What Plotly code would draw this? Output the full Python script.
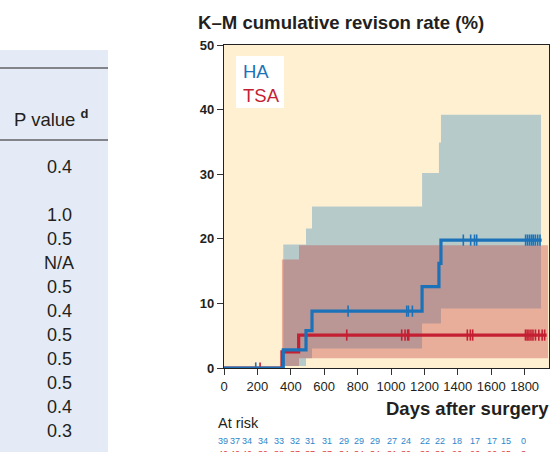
import numpy as np
import plotly.graph_objects as go

# ---------------- data ----------------
ha_days = [0, 355, 491, 527, 1186, 1287, 1299, 1902]
ha_rate = [0, 2.8, 5.8, 8.8, 12.6, 16.2, 19.8, 19.8]
tsa_days = [0, 347, 447, 1932]
tsa_rate = [0, 2.5, 5.1, 5.1]

ha_ci_days = [355, 491, 527, 1186, 1287, 1299, 1898]
ha_ci_upper = [19.1, 21.6, 25.0, 30.2, 34.9, 39.2, 39.2]
ha_ci_lower = [0.3, 1.5, 3.0, 6.9, 6.9, 9.2, 9.2]
tsa_ci_days = [347, 449, 1940]
tsa_ci_upper = [16.8, 19.0, 19.0]
tsa_ci_lower = [0.3, 1.5, 1.5]

ha_censor = [190, 743, 1094, 1104, 1128, 1433, 1477, 1500, 1513,
             1806, 1818, 1830, 1842, 1852, 1864, 1878, 1892]
tsa_censor = [216, 735, 1064, 1084, 1100, 1106, 1457, 1475, 1489,
              1805, 1815, 1826, 1838, 1850, 1865, 1885, 1905, 1920]

risk_days = [-8, 68, 136, 236, 331, 425, 515, 615, 721, 811,
             905, 1008, 1090, 1204, 1293, 1393, 1503, 1603, 1687, 1793]
ha_at_risk = [39, 37, 34, 34, 33, 32, 31, 31, 29, 29, 29, 27, 24, 22, 22, 18, 17, 17, 15, 0]
tsa_at_risk = [40, 40, 40, 39, 38, 37, 37, 37, 34, 34, 34, 31, 30, 30, 30, 26, 26, 26, 25, 3]

p_values = ["0.4", "", "1.0", "0.5", "N/A", "0.5", "0.4", "0.5", "0.5", "0.5", "0.4", "0.3"]

x_ticks = [0, 200, 400, 600, 800, 1000, 1200, 1400, 1600, 1800]
y_ticks = [0, 10, 20, 30, 40, 50]
X_MAX = 1946

# ---------------- style ----------------
W, H = 552, 452
L, R, T, B = 224, 3, 45, 84
PW, PH = W - L - R, H - T - B
BLUE = "#1C72B8"
RED = "#C41F33"
CREAM = "#FFF0D2"
FONT = "Liberation Sans, Arial, sans-serif"
TXT = "#231F20"


def px(x):
    return (x - L) / PW


def py(y):
    return (T + PH - y) / PH


def step_value(days, vals, t):
    i = np.searchsorted(np.asarray(days), t, side="right") - 1
    return vals[max(i, 0)]


fig = go.Figure()

# confidence bands
for d, lo, up, col in [(ha_ci_days, ha_ci_lower, ha_ci_upper, "rgba(75,145,190,0.40)"),
                       (tsa_ci_days, tsa_ci_lower, tsa_ci_upper, "rgba(193,62,61,0.37)")]:
    fig.add_trace(go.Scatter(x=d, y=lo, mode="lines", line=dict(width=0, shape="hv"),
                             hoverinfo="skip", showlegend=False))
    fig.add_trace(go.Scatter(x=d, y=up, mode="lines", line=dict(width=0, shape="hv"),
                             fill="tonexty", fillcolor=col, hoverinfo="skip", showlegend=False))

# KM lines (TSA first, HA on top)
for d, r, c, cens in [(tsa_days, tsa_rate, RED, tsa_censor), (ha_days, ha_rate, BLUE, ha_censor)]:
    fig.add_trace(go.Scatter(x=d, y=r, mode="lines", line=dict(color=c, width=3.2, shape="hv"),
                             showlegend=False))
    fig.add_trace(go.Scatter(x=cens, y=[step_value(d, r, t) for t in cens], mode="markers",
                             marker=dict(symbol="line-ns", size=8, line=dict(color=c, width=1.6)),
                             showlegend=False))

fig.update_xaxes(range=[0, X_MAX], tickvals=x_ticks, ticks="outside", ticklen=6, tickwidth=1,
                 tickcolor="#333", showline=True, linecolor="#222", linewidth=1.3, mirror=True,
                 showgrid=False, zeroline=False, tickfont=dict(family=FONT, size=13, color=TXT))
fig.update_yaxes(range=[0, 50], tickvals=y_ticks, ticktext=[f"<b>{v}</b>" for v in y_ticks],
                 ticks="outside", ticklen=6, tickwidth=1, tickcolor="#333", showline=True,
                 linecolor="#222", linewidth=1.3, mirror=True, showgrid=False, zeroline=False,
                 tickfont=dict(family=FONT, size=13, color=TXT))

shapes = []
# left table panel
shapes.append(dict(type="rect", xref="paper", yref="paper", x0=px(0), x1=px(108), y0=py(452),
                   y1=py(50), fillcolor="#E5EBF6", line=dict(width=0), layer="below"))
for yy in (68, 140):
    shapes.append(dict(type="line", xref="paper", yref="paper", x0=px(0), x1=px(108), y0=py(yy),
                       y1=py(yy), line=dict(color=TXT, width=1)))
# legend box
shapes.append(dict(type="rect", xref="paper", yref="paper", x0=px(236), x1=px(284), y0=py(108),
                   y1=py(56), fillcolor="white", line=dict(width=0)))

ann = []
ann.append(dict(text="<b>K–M cumulative revison rate (%)</b>", xref="paper", yref="paper", x=px(196),
                y=py(22), xanchor="left", yanchor="middle", showarrow=False,
                font=dict(family=FONT, size=18.6, color=TXT)))
ann.append(dict(text="<b>Days after surgery</b>", xref="paper", yref="paper", x=px(551),
                y=py(409), xanchor="right", yanchor="middle", showarrow=False,
                font=dict(family=FONT, size=18.5, color=TXT)))
ann.append(dict(text="HA", xref="paper", yref="paper", x=px(241), y=py(72), xanchor="left",
                yanchor="middle", showarrow=False, font=dict(family=FONT, size=18.5, color=BLUE)))
ann.append(dict(text="TSA", xref="paper", yref="paper", x=px(241), y=py(95), xanchor="left",
                yanchor="middle", showarrow=False, font=dict(family=FONT, size=18.5, color=RED)))
ann.append(dict(text="At risk", xref="paper", yref="paper", x=px(216), y=py(423), xanchor="left",
                yanchor="middle", showarrow=False, font=dict(family=FONT, size=14.5, color=TXT)))
for d, n1, n2 in zip(risk_days, ha_at_risk, tsa_at_risk):
    xp = d / X_MAX
    ann.append(dict(text=str(n1), xref="paper", yref="paper", x=xp, y=py(441), xanchor="center",
                    yanchor="middle", showarrow=False, font=dict(family=FONT, size=9, color="#2C86CC")))
    ann.append(dict(text=str(n2), xref="paper", yref="paper", x=xp, y=py(453.5), xanchor="center",
                    yanchor="middle", showarrow=False, font=dict(family=FONT, size=9, color="#E0403F")))
# table column
ann.append(dict(text="P value <sup><b>d</b></sup>", xref="paper", yref="paper", x=px(12), y=py(118),
                xanchor="left", yanchor="middle", showarrow=False,
                font=dict(family=FONT, size=18.5, color=TXT)))
for i, v in enumerate(p_values):
    if v:
        ann.append(dict(text=v, xref="paper", yref="paper", x=px(59), y=py(166.5 + 24 * i),
                        xanchor="center", yanchor="middle", showarrow=False,
                        font=dict(family=FONT, size=18, color=TXT)))

fig.update_layout(width=W, height=H, margin=dict(l=L, r=R, t=T, b=B, pad=0),
                  paper_bgcolor="white", plot_bgcolor=CREAM, shapes=shapes, annotations=ann,
                  showlegend=False)

fig.write_html("out.html", config={"displayModeBar": False},
               post_script="document.body.style.margin='0';document.documentElement.style.overflow='hidden';")
